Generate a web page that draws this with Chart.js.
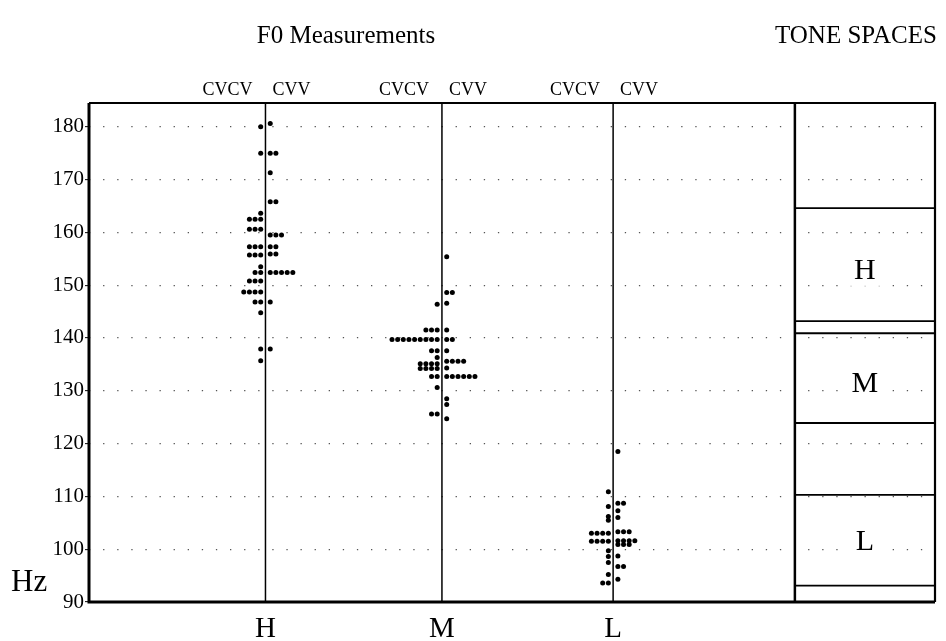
<!DOCTYPE html>
<html>
<head>
<meta charset="utf-8">
<script src="https://cdn.jsdelivr.net/npm/chart.js@4/dist/chart.umd.min.js"></script>
<style>
  html, body { margin: 0; padding: 0; background: #fff; }
  #wrap { width: 946px; height: 641px; }
</style>
</head>
<body>
<div id="wrap"><canvas id="f0Chart" width="946" height="641"></canvas></div>
<script>
// Tone categories and where their columns sit on the x axis
const categories = ['H', 'M', 'L'];
const categoryX = [1, 2, 2.97];
const contexts = ['CVCV', 'CVV'];

// F0 values (Hz) with how many tokens sit at each value
// CVCV dots go left of the column line, CVV dots go right
const hCvcv = [[180, 1], [175, 1], [163.6, 1], [162.5, 3], [160.6, 3], [157.3, 3], [155.7, 3], [153.5, 1], [152.4, 2], [150.8, 3], [148.7, 4], [146.8, 2], [144.8, 1], [137.9, 1], [135.7, 1]];
const hCvv = [[180.6, 1], [175, 2], [171.3, 1], [165.8, 2], [159.5, 3], [157.3, 2], [155.9, 2], [152.4, 5], [146.8, 1], [137.9, 1]];
const mCvcv = [[146.4, 1], [141.5, 3], [139.7, 9], [137.6, 2], [136.3, 1], [135.1, 4], [134.2, 4], [132.7, 2], [130.6, 1], [125.6, 2]];
const mCvv = [[155.4, 1], [148.6, 2], [146.6, 1], [141.5, 1], [139.7, 2], [137.6, 1], [135.6, 4], [134.3, 1], [132.7, 6], [128.5, 1], [127.4, 1], [124.7, 1]];
const lCvcv = [[110.9, 1], [108.1, 1], [106.2, 1], [105.5, 1], [103.0, 4], [101.5, 4], [99.7, 1], [98.6, 1], [97.5, 1], [95.2, 1], [93.6, 2]];
const lCvv = [[118.5, 1], [108.7, 2], [107.3, 1], [106.0, 1], [103.3, 3], [101.6, 4], [100.9, 3], [98.7, 1], [96.7, 2], [94.3, 1]];

// Tone spaces (Hz ranges) shown in the right panel
const toneNames = ['H', 'M', 'L'];
const toneTop = [164.6, 140.9, 110.3];
const toneBottom = [143.2, 123.9, 93.1];
const toneLabelY = [152.9, 131.4, 101.6];

const yTicks = [90, 100, 110, 120, 130, 140, 150, 160, 170, 180];
const yMin = 90, yMax = 184.5;
const xMax = 4.794;      // right edge of tone-space panel
const panelX = 4;        // divider between measurements and tone spaces

// dot layout in x units
const dotFirst = 0.027, dotStep = 0.032;

function dotPoints(rows, cx, side) {
    const pts = [];
    rows.forEach(([hz, n]) => {
        for (let i = 0; i < n; i++) {
            pts.push({ x: cx + side * (dotFirst + dotStep * i), y: hz });
        }
    });
    return pts;
}

const groups = [[hCvcv, hCvv], [mCvcv, mCvv], [lCvcv, lCvv]];
let dots = [];
groups.forEach(([left, right], i) => {
    dots = dots.concat(dotPoints(left, categoryX[i], -1), dotPoints(right, categoryX[i], 1));
});

const datasets = [{
    label: 'F0',
    data: dots,
    backgroundColor: '#000',
    borderColor: '#000',
    pointRadius: 2.5,
    pointBorderWidth: 0
}];

categoryX.forEach((cx, i) => {
    datasets.push({
        label: categories[i] + ' column',
        data: [{ x: cx, y: yMin }, { x: cx, y: yMax }],
        showLine: true, borderColor: '#000', borderWidth: 1.5, pointRadius: 0
    });
});

datasets.push({
    label: 'divider',
    data: [{ x: panelX, y: yMin }, { x: panelX, y: yMax }],
    showLine: true, borderColor: '#000', borderWidth: 2.5, pointRadius: 0
});

toneNames.forEach((t, i) => {
    [toneTop[i], toneBottom[i]].forEach(v => {
        datasets.push({
            label: t + ' bound',
            data: [{ x: panelX, y: v }, { x: xMax, y: v }],
            showLine: true, borderColor: '#000', borderWidth: 1.8, pointRadius: 0
        });
    });
});

const serif = '"Liberation Serif", "DejaVu Serif", serif';

const decorations = {
    id: 'decorations',
    beforeDatasetsDraw(chart) {
        // white patches behind tone-space letters so the dotted grid breaks around them
        const { ctx, scales: { x, y } } = chart;
        const cx = x.getPixelForValue((panelX + xMax) / 2);
        ctx.save();
        ctx.fillStyle = '#fff';
        toneLabelY.forEach(v => {
            ctx.fillRect(cx - 22, y.getPixelForValue(v) - 16, 44, 32);
        });
        ctx.restore();
    },
    afterDraw(chart) {
        const { ctx, chartArea: a, scales: { x, y } } = chart;
        ctx.save();
        ctx.strokeStyle = '#000';
        ctx.lineWidth = 3;
        ctx.beginPath();
        ctx.moveTo(a.left, a.top); ctx.lineTo(a.left, a.bottom); ctx.lineTo(a.right, a.bottom);
        ctx.stroke();
        ctx.lineWidth = 2.2;
        ctx.beginPath();
        ctx.moveTo(a.left, a.top); ctx.lineTo(a.right, a.top); ctx.lineTo(a.right, a.bottom);
        ctx.stroke();

        ctx.fillStyle = '#000';
        ctx.font = '25px ' + serif;
        ctx.textBaseline = 'middle';
        ctx.textAlign = 'center';
        ctx.fillText('F0 Measurements', 346, 36);
        ctx.textAlign = 'left';
        ctx.fillText('TONE SPACES', 775, 36);

        ctx.font = '18px ' + serif;
        ctx.textBaseline = 'alphabetic';
        categoryX.forEach(cx => {
            const px = x.getPixelForValue(cx);
            ctx.textAlign = 'right';
            ctx.fillText(contexts[0], px - 13, 95);
            ctx.textAlign = 'left';
            ctx.fillText(contexts[1], px + 7, 95);
        });

        ctx.font = '31px ' + serif;
        ctx.textAlign = 'left';
        ctx.fillText('Hz', 11, 591);

        ctx.font = '30px ' + serif;
        ctx.textAlign = 'center';
        ctx.textBaseline = 'middle';
        const tx = x.getPixelForValue((panelX + xMax) / 2);
        toneNames.forEach((t, i) => {
            ctx.fillText(t, tx, y.getPixelForValue(toneLabelY[i]) + 1);
        });
        ctx.restore();
    }
};

new Chart(document.getElementById('f0Chart'), {
    type: 'scatter',
    data: { datasets: datasets },
    plugins: [decorations],
    options: {
        responsive: false,
        devicePixelRatio: 1,
        animation: false,
        layout: { padding: { top: 103, right: 11, left: 0, bottom: 0 } },
        plugins: { legend: { display: false }, tooltip: { enabled: false } },
        scales: {
            x: {
                type: 'linear', min: 0, max: xMax,
                afterFit: s => { s.height = 39; },
                afterBuildTicks: s => { s.ticks = categoryX.map(v => ({ value: v })); },
                grid: { display: false },
                border: { display: false },
                ticks: {
                    color: '#000', padding: 2,
                    font: { family: serif, size: 29 },
                    callback: (v, i) => categories[i]
                }
            },
            y: {
                type: 'linear', min: yMin, max: yMax,
                afterFit: s => { s.width = 89; },
                afterBuildTicks: s => { s.ticks = yTicks.map(v => ({ value: v })); },
                grid: {
                    color: '#555', lineWidth: 1.3,
                    tickLength: 4, tickColor: '#000', tickWidth: 1, tickBorderDash: []
                },
                border: { display: false, dash: [1.3, 12.8] },
                ticks: {
                    color: '#000', padding: 1,
                    font: { family: serif, size: 21 }
                }
            }
        }
    }
});
</script>
</body>
</html>
